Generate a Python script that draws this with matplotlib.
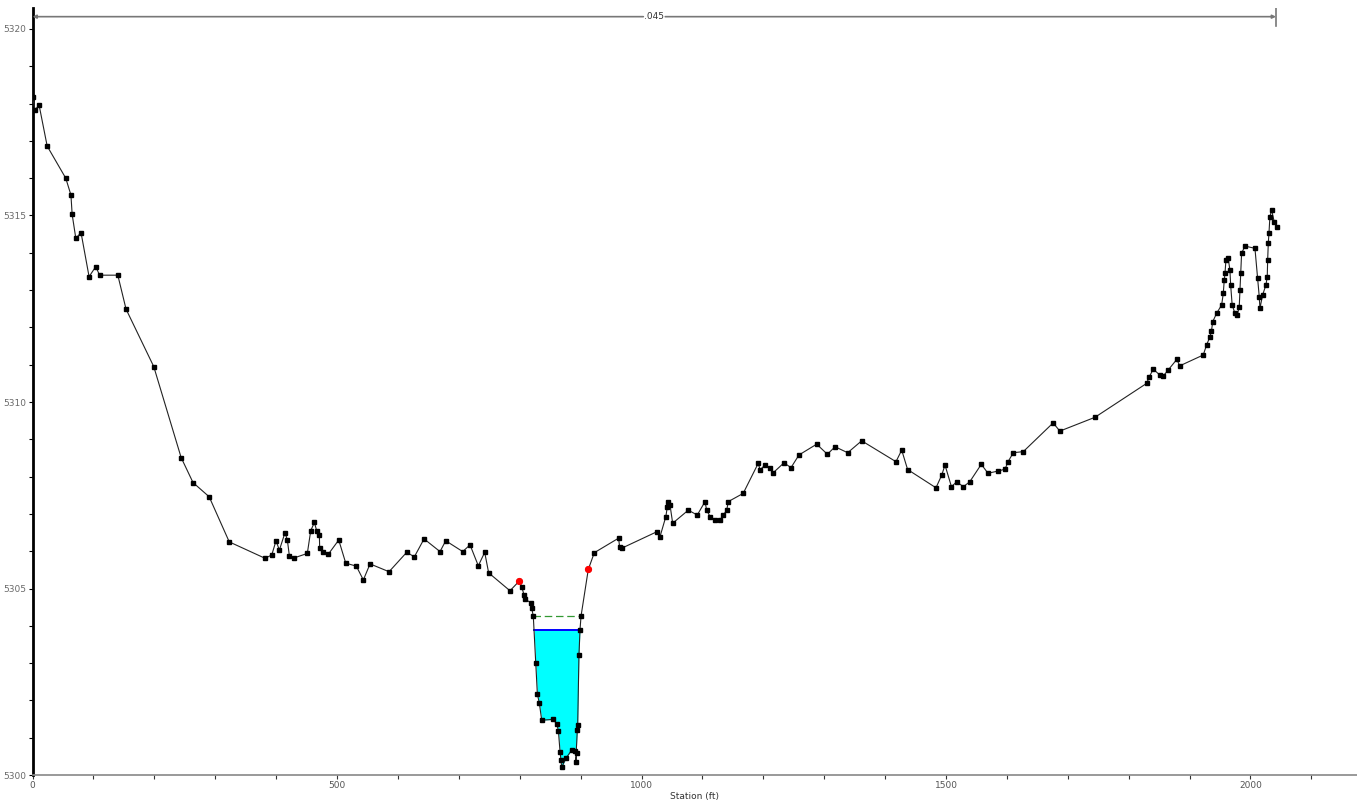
import numpy as np
import matplotlib
matplotlib.use("Agg")
import matplotlib.pyplot as plt
from matplotlib.ticker import MultipleLocator

# Ground profile (station ft, elevation ft)
station = [0, 4, 10.7, 24, 54.5, 63, 65, 71, 79.6, 92.8, 103.8, 110, 140, 153.5, 199, 244,
           263.5, 290, 323, 381.8, 392.8, 399.8, 405.3, 414.6, 418.4, 421.7, 429.4, 451.2,
           456.8, 462.8, 466.6, 471, 471.5, 477.5, 485.7, 502.8, 514.3, 531.7, 543.2, 554.2,
           585.4, 614.4, 627, 642.9, 669.1, 678.5, 706.4, 718.4, 732, 742.5, 749, 784, 799.3,
           803.3, 807, 808.7, 818.6, 819.7, 822.3, 826.3, 829, 832.3, 836.1, 854.2, 860.7,
           863.5, 866.2, 867.8, 869, 876, 885.4, 890.8, 893.6, 892, 894.6, 895.2, 897.3, 899,
           900.7, 912.6, 922.5, 962.4, 964, 967.5, 1025, 1030.4, 1040, 1042.4, 1044, 1046.8,
           1051.2, 1076.8, 1091.6, 1104.3, 1107, 1112.5, 1120.5, 1128.9, 1134.3, 1140, 1142.5,
           1167, 1191.8, 1194.6, 1202.8, 1211, 1215.4, 1234, 1245.5, 1258.6, 1287.7, 1305.2,
           1317.9, 1338.6, 1361.6, 1417.9, 1427.3, 1437, 1483.6, 1493, 1498.4, 1509, 1517.5,
           1528.6, 1539, 1558, 1569, 1586, 1597, 1602, 1610.5, 1627, 1676, 1687, 1744.7,
           1829.6, 1834, 1840.4, 1851.4, 1857, 1865, 1879, 1884, 1922.5, 1928, 1933.5, 1936,
           1938, 1944.5, 1952.7, 1955.4, 1957, 1958.2, 1959.8, 1963.5, 1966.3, 1967.5, 1970,
           1974.5, 1978.3, 1981.6, 1982.8, 1984, 1985.5, 1991, 2007.4, 2011.8, 2014.5, 2015.6,
           2020, 2025.5, 2027.6, 2028.3, 2029.3, 2030.4, 2032, 2034.8, 2039, 2043]
elevation = [5318.18, 5317.83, 5317.96, 5316.86, 5316.0, 5315.55, 5315.03, 5314.39, 5314.54,
             5313.36, 5313.63, 5313.40, 5313.40, 5312.49, 5310.95, 5308.51, 5307.84, 5307.46,
             5306.25, 5305.81, 5305.90, 5306.28, 5306.03, 5306.50, 5306.30, 5305.88, 5305.82,
             5305.94, 5306.55, 5306.77, 5306.55, 5306.43, 5306.08, 5305.99, 5305.92, 5306.30,
             5305.68, 5305.60, 5305.23, 5305.66, 5305.45, 5305.97, 5305.85, 5306.33, 5305.99,
             5306.28, 5305.99, 5306.17, 5305.61, 5305.97, 5305.42, 5304.94, 5305.20, 5305.05,
             5304.83, 5304.71, 5304.62, 5304.47, 5304.26, 5302.99, 5302.17, 5301.92, 5301.47,
             5301.49, 5301.38, 5301.19, 5300.63, 5300.40, 5300.21, 5300.45, 5300.67, 5300.65,
             5300.58, 5300.36, 5301.21, 5301.34, 5303.22, 5303.89, 5304.26, 5305.51, 5305.96,
             5306.35, 5306.12, 5306.08, 5306.52, 5306.39, 5306.93, 5307.19, 5307.33, 5307.24,
             5306.75, 5307.10, 5306.97, 5307.33, 5307.10, 5306.93, 5306.85, 5306.84, 5306.97,
             5307.10, 5307.33, 5307.55, 5308.36, 5308.18, 5308.31, 5308.22, 5308.09, 5308.37,
             5308.24, 5308.58, 5308.87, 5308.60, 5308.80, 5308.64, 5308.96, 5308.40, 5308.71,
             5308.19, 5307.70, 5308.04, 5308.31, 5307.73, 5307.86, 5307.73, 5307.86, 5308.33,
             5308.09, 5308.15, 5308.20, 5308.40, 5308.64, 5308.67, 5309.44, 5309.22, 5309.59,
             5310.50, 5310.68, 5310.88, 5310.72, 5310.70, 5310.86, 5311.14, 5310.97, 5311.26,
             5311.53, 5311.75, 5311.90, 5312.15, 5312.38, 5312.60, 5312.91, 5313.27, 5313.45,
             5313.81, 5313.85, 5313.54, 5313.14, 5312.60, 5312.38, 5312.33, 5312.55, 5313.0,
             5313.45, 5313.99, 5314.18, 5314.12, 5313.32, 5312.82, 5312.51, 5312.87, 5313.14,
             5313.36, 5313.81, 5314.25, 5314.52, 5314.97, 5315.15, 5314.83, 5314.70]

bank_station = [799.3, 912.6]
bank_elev = [5305.20, 5305.51]

ws_elev = 5303.89       # water surface
eg_elev = 5304.26       # energy grade
channel_range = [805, 905]
n_label = ".045"
n_range = [0, 2042]

x_ticks = [0, 500, 1000, 1500, 2000]
y_ticks = [5300, 5305, 5310, 5315, 5320]

st = np.array(station, dtype=float)
el = np.array(elevation, dtype=float)


def crossings(level):
    """Left and right intersections of a level with the channel ground."""
    lo, hi = channel_range
    xs = []
    for i in range(len(st) - 1):
        x0, x1, y0, y1 = st[i], st[i + 1], el[i], el[i + 1]
        if x0 < lo or x1 > hi:
            continue
        if (y0 - level) * (y1 - level) <= 0 and y0 != y1:
            xs.append(x0 + (level - y0) * (x1 - x0) / (y1 - y0))
    return min(xs), max(xs)


fig = plt.figure(figsize=(13.57, 8.09), dpi=100)
ax = fig.add_axes([0.024, 0.042, 0.976, 0.948])

# water fill
wl, wr = crossings(ws_elev)
mask = (st >= wl - 1e-6) & (st <= wr + 1e-6)
xs_f = np.concatenate([[wl], st[mask], [wr]])
ys_f = np.concatenate([[ws_elev], el[mask], [ws_elev]])
ys_f = np.minimum(ys_f, ws_elev)
ax.fill_between(xs_f, ys_f, ws_elev, color="#00FFFF", lw=0, zorder=1)
ax.plot([wl, wr], [ws_elev, ws_elev], color="#0000FF", lw=1.4, zorder=3)

el_l, el_r = crossings(eg_elev)
ax.plot([el_l, el_r], [eg_elev, eg_elev], color="#339933", lw=0.9,
        dashes=(6, 3), zorder=3)

ax.plot(st, el, color="#222222", lw=0.8, marker="s", ms=3.2,
        mfc="black", mec="black", zorder=4)
ax.plot(bank_station, bank_elev, ls="none", marker="o", ms=4.2,
        mfc="#FF0000", mec="#FF0000", zorder=5)

# Manning's n dimension line
y_dim = 5320.33
xm = (n_range[0] + n_range[1]) / 2
ax.annotate("", xy=(n_range[0], y_dim), xytext=(xm - 18, y_dim),
            arrowprops=dict(arrowstyle="-|>", color="#777777", lw=1.2,
                            mutation_scale=5, shrinkA=0, shrinkB=0))
ax.annotate("", xy=(n_range[1], y_dim), xytext=(xm + 18, y_dim),
            arrowprops=dict(arrowstyle="-|>", color="#777777", lw=1.2,
                            mutation_scale=5, shrinkA=0, shrinkB=0))
ax.plot([n_range[1], n_range[1]], [y_dim - 0.25, y_dim + 0.25], color="#777777", lw=1.2)
ax.text(xm, y_dim, n_label, ha="center", va="center", fontsize=6.5, color="#333333")

ax.set_xlim(0, 2175)
ax.set_ylim(5300, 5320.56)
ax.set_xticks(x_ticks)
ax.set_yticks(y_ticks)
ax.xaxis.set_minor_locator(MultipleLocator(100))
ax.yaxis.set_minor_locator(MultipleLocator(1))
ax.tick_params(axis="both", which="both", direction="out", length=3, width=0.8,
               labelsize=6.5, colors="#555555", pad=1.5)
ax.tick_params(axis="y", which="both", colors="black", labelcolor="#6a6a6a")
ax.tick_params(axis="x", which="both", colors="#333333", labelcolor="#555555")

for s in ["top", "right"]:
    ax.spines[s].set_visible(False)
ax.spines["left"].set_linewidth(2.0)
ax.spines["left"].set_color("black")
ax.spines["bottom"].set_linewidth(1.2)
ax.spines["bottom"].set_color("#888888")

ax.set_xlabel("Station (ft)", fontsize=6.5, color="#333333", labelpad=1)

fig.savefig("out.png", dpi=100)
